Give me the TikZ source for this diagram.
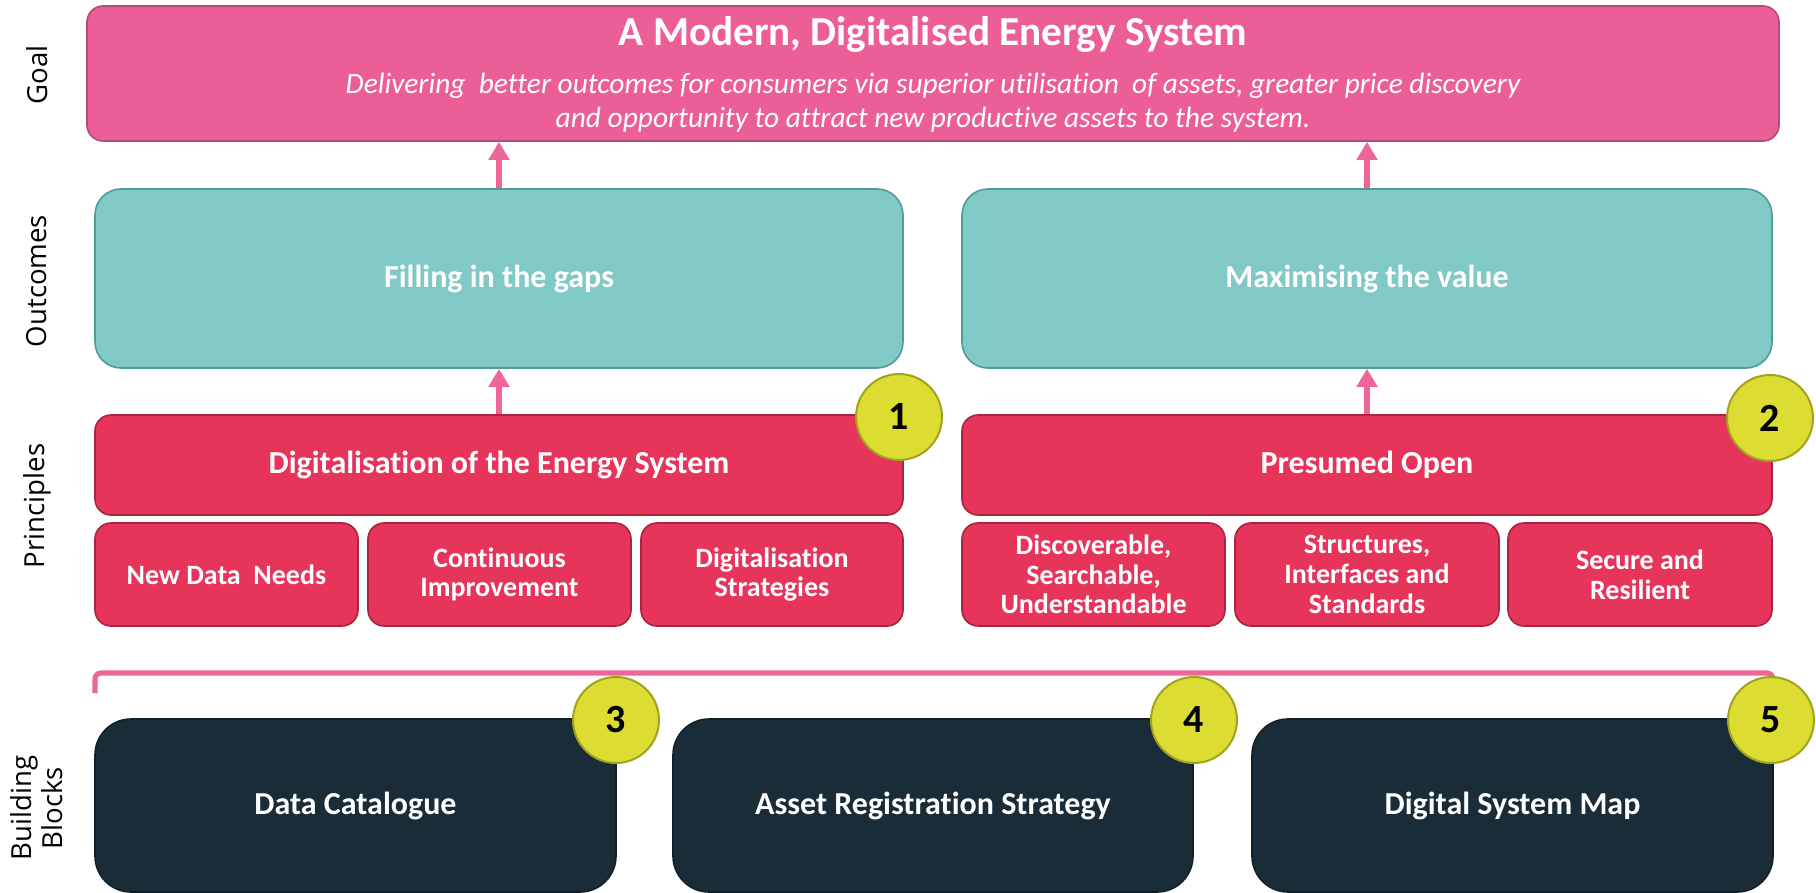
\documentclass[tikz,border=0pt]{standalone}
\usepackage{fontspec}
\setmainfont{Carlito}[Ligatures=NoCommon]
\newfontfamily\sidefont{Open Sans}
\usetikzlibrary{arrows.meta,calc}
\definecolor{goalfill}{HTML}{EC5F96}
\definecolor{goaldraw}{HTML}{B24A7C}
\definecolor{outfill}{HTML}{80C9C7}
\definecolor{outdraw}{HTML}{4F9C99}
\definecolor{prfill}{HTML}{E6345A}
\definecolor{prdraw}{HTML}{A8243F}
\definecolor{bbfill}{HTML}{192C38}
\definecolor{bbdraw}{HTML}{10202A}
\definecolor{badgefill}{HTML}{DCDC32}
\definecolor{badgedraw}{HTML}{A3A21E}
\definecolor{arrowpink}{HTML}{EE6699}
\newcommand\bx[7]{\node[#2,minimum width={(#5-#3)*0.5pt},minimum height={(#6-#4)*0.5pt}] (#1) at ({(#3+#5)/2},{(#4+#6)/2}) {#7};}
\tikzset{
  basebox/.style={inner sep=0pt, text=white, align=center, line width=0.8pt,
    font=\fontsize{16}{17}\selectfont\bfseries},
  goalbox/.style={basebox, fill=goalfill, draw=goaldraw, rounded corners=8pt},
  outbox/.style={basebox, fill=outfill, draw=outdraw, rounded corners=13pt},
  prbox/.style={basebox, fill=prfill, draw=prdraw, rounded corners=8pt},
  subbox/.style={prbox, font=\fontsize{14}{14.8}\selectfont\bfseries},
  bbbox/.style={basebox, fill=bbfill, draw=bbdraw, rounded corners=18pt},
  badge/.style={circle, fill=badgefill, draw=badgedraw, line width=1pt, minimum size=43pt,
    inner sep=0pt, text=black, font=\fontsize{20}{20}\selectfont\bfseries},
  arr/.style={draw=arrowpink, line width=2.8pt, -{Triangle[length=9pt,width=10pt]}},
  bracket/.style={draw=arrowpink, line width=2.6pt, rounded corners=3pt},
  side/.style={rotate=90, font=\sidefont\fontsize{13.8}{15.5}\selectfont, align=center, inner sep=0pt},
  titletxt/.style={anchor=base, text=white, font=\fontsize{20.6}{22}\selectfont\bfseries, inner sep=0pt},
  subtxt/.style={anchor=base, text=white, font=\fontsize{14.7}{17}\selectfont\itshape, inner sep=0pt}
}
\begin{document}
\begin{tikzpicture}[x=0.5pt,y=-0.5pt]
\useasboundingbox (0,0) rectangle (1816,893);
% side labels
\node[side] (lgoal) at (37,75) {Goal};
\node[side] (lout) at (37,281) {Outcomes};
\node[side] (lpr) at (37,506) {Principles};
\node[side] (lbb) at (37,808) {Building\\Blocks};
% goal
\bx{goal}{goalbox}{87}{6}{1779}{141}{}
\node[titletxt] (gtitle) at (933,46) {A Modern, Digitalised Energy System};
\node[subtxt] (gsub1) at (933,94) {Delivering\ \ better outcomes for consumers via superior utilisation\ \ of assets, greater price discovery};
\node[subtxt] (gsub2) at (933,128) {and opportunity to attract new productive assets to the system.};
% outcomes
\bx{outL}{outbox}{95}{189}{903}{368}{Filling in the gaps}
\bx{outR}{outbox}{962}{189}{1772}{368}{Maximising the value}
% principles
\bx{prL}{prbox}{95}{415}{903}{515}{Digitalisation of the Energy System}
\bx{prR}{prbox}{962}{415}{1772}{515}{Presumed Open}
\bx{s1}{subbox}{95}{523}{358}{626}{New Data\ \ Needs}
\bx{s2}{subbox}{368}{523}{631}{626}{Continuous\\Improvement}
\bx{s3}{subbox}{641}{523}{903}{626}{Digitalisation\\Strategies}
\bx{s4}{subbox}{962}{523}{1225}{626}{Discoverable,\\Searchable,\\Understandable}
\bx{s5}{subbox}{1235}{523}{1499}{626}{Structures,\\Interfaces and\\Standards}
\bx{s6}{subbox}{1508}{523}{1772}{626}{Secure and\\Resilient}
% building blocks
\bx{b1}{bbbox}{95}{719}{616}{892}{Data Catalogue}
\bx{b2}{bbbox}{673}{719}{1193}{892}{Asset Registration Strategy}
\bx{b3}{bbbox}{1252}{719}{1773}{892}{Digital System Map}
% bracket
\coordinate (brL) at (95,693);
\coordinate (brR) at (1773,679);
\draw[bracket] (brL) -- ++(0,-20) -| (brR);
% arrows
\draw[arr] (outL.north) -- (outL.north |- goal.south);
\draw[arr] (outR.north) -- (outR.north |- goal.south);
\draw[arr] (prL.north) -- (outL.south);
\draw[arr] (prR.north) -- (outR.south);
% badges
\node[badge] (n1) at (899,417) {1};
\node[badge] (n2) at (1770,418) {2};
\node[badge] (n3) at (616,720) {3};
\node[badge] (n4) at (1194,720) {4};
\node[badge] (n5) at (1771,720) {5};
\end{tikzpicture}
\end{document}
